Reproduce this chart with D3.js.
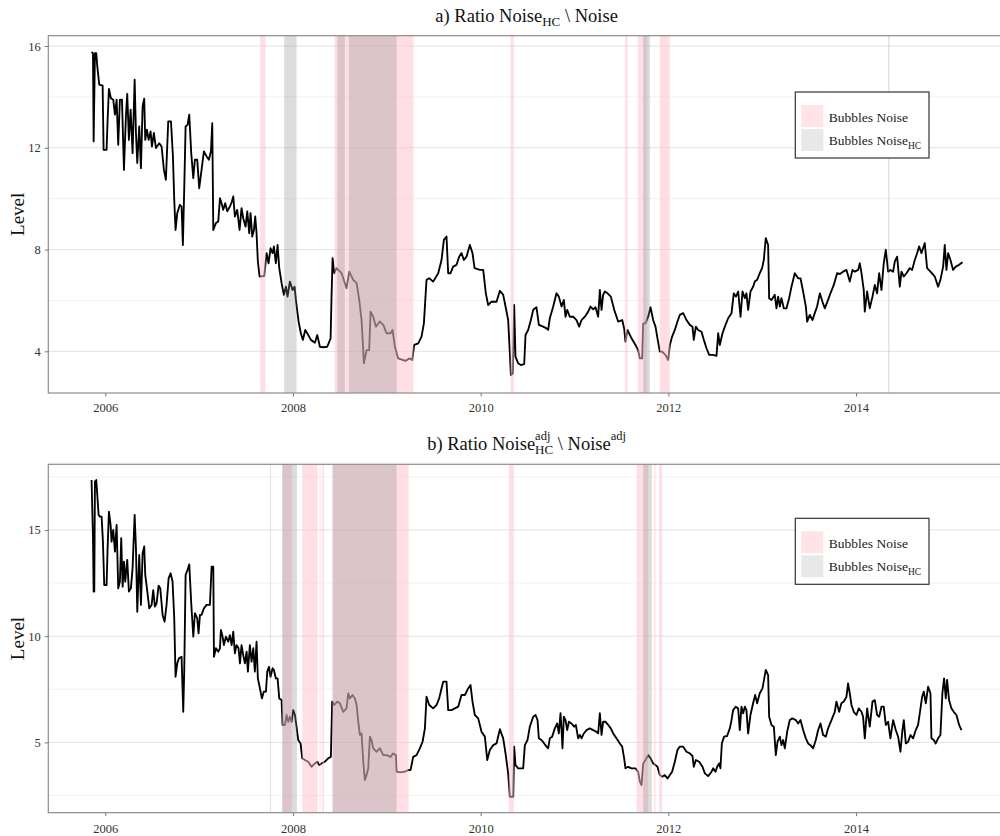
<!DOCTYPE html>
<html><head><meta charset="utf-8">
<script src="https://cdn.jsdelivr.net/npm/d3@7"></script>
<style>body{margin:0;background:#fff}svg{display:block}</style>
</head><body><svg id="c" width="1000" height="836"></svg>
<script>
// ---------- DATA ----------
const yearTicks = [2006, 2008, 2010, 2012, 2014];
const ticksA = [4, 8, 12, 16];
const minorA = [6, 10, 14];
const ticksB = [5, 10, 15];
const minorB = [2.5, 7.5, 12.5, 17.5];
const legendLabels = ["Bubbles Noise", "Bubbles Noise"];

// panel a: [decimal year, level]
const seriesA = [[2005.854,15.76],[2005.869,15.72],[2005.876,12.25],[2005.890,15.72],[2005.904,15.72],[2005.915,15.20],[2005.936,14.48],[2005.972,14.44],[2005.982,11.92],[2006.014,11.92],[2006.025,13.10],[2006.039,14.31],[2006.060,13.95],[2006.085,13.89],[2006.103,13.30],[2006.121,13.89],[2006.138,12.12],[2006.156,13.89],[2006.178,13.89],[2006.199,11.13],[2006.220,13.23],[2006.234,14.12],[2006.252,12.31],[2006.270,13.50],[2006.291,11.79],[2006.313,14.68],[2006.327,12.58],[2006.341,11.40],[2006.362,12.84],[2006.380,11.20],[2006.398,13.63],[2006.415,13.93],[2006.426,12.31],[2006.444,12.71],[2006.462,12.31],[2006.483,12.64],[2006.497,12.05],[2006.518,12.58],[2006.540,11.99],[2006.575,12.18],[2006.600,12.05],[2006.625,11.13],[2006.646,10.74],[2006.671,13.04],[2006.700,13.04],[2006.721,11.66],[2006.735,9.95],[2006.749,8.77],[2006.767,9.43],[2006.795,9.76],[2006.813,9.69],[2006.827,8.18],[2006.842,10.48],[2006.856,12.84],[2006.877,12.90],[2006.895,13.30],[2006.916,11.79],[2006.938,10.81],[2006.955,11.53],[2006.980,11.53],[2007.001,10.41],[2007.026,11.13],[2007.051,11.86],[2007.080,11.66],[2007.104,11.53],[2007.126,11.86],[2007.140,12.97],[2007.151,8.77],[2007.179,9.04],[2007.204,9.10],[2007.222,10.02],[2007.239,9.82],[2007.257,9.56],[2007.278,9.82],[2007.300,9.50],[2007.328,9.69],[2007.346,9.85],[2007.364,10.09],[2007.381,9.30],[2007.406,9.56],[2007.431,8.77],[2007.452,9.63],[2007.470,9.23],[2007.495,8.90],[2007.513,9.50],[2007.534,8.64],[2007.548,9.43],[2007.566,8.51],[2007.584,8.77],[2007.598,9.30],[2007.612,8.64],[2007.626,7.53],[2007.644,6.94],[2007.694,6.96],[2007.719,7.86],[2007.740,7.46],[2007.761,8.05],[2007.783,7.86],[2007.797,8.12],[2007.818,7.46],[2007.836,8.18],[2007.854,7.27],[2007.879,6.68],[2007.903,6.22],[2007.925,6.54],[2007.942,6.15],[2007.967,6.74],[2007.996,6.41],[2008.017,6.54],[2008.031,6.02],[2008.060,5.17],[2008.084,4.71],[2008.106,4.45],[2008.131,4.84],[2008.152,4.71],[2008.191,4.45],[2008.234,4.34],[2008.259,4.64],[2008.287,4.18],[2008.322,4.16],[2008.365,4.18],[2008.401,4.51],[2008.411,6.15],[2008.422,7.66],[2008.440,7.07],[2008.464,7.27],[2008.518,7.07],[2008.571,6.48],[2008.599,7.13],[2008.642,6.81],[2008.678,6.68],[2008.706,6.02],[2008.731,5.23],[2008.756,3.53],[2008.784,4.05],[2008.812,4.05],[2008.827,5.56],[2008.855,5.36],[2008.884,4.97],[2008.926,5.17],[2008.962,5.04],[2008.997,4.71],[2009.040,4.71],[2009.061,4.84],[2009.086,4.18],[2009.121,3.72],[2009.168,3.66],[2009.203,3.63],[2009.239,3.72],[2009.271,3.66],[2009.292,4.25],[2009.335,4.31],[2009.370,4.58],[2009.395,5.10],[2009.423,6.81],[2009.452,6.87],[2009.494,6.74],[2009.548,7.07],[2009.583,7.59],[2009.608,8.38],[2009.636,8.51],[2009.654,7.07],[2009.679,7.07],[2009.707,7.33],[2009.743,7.40],[2009.771,7.72],[2009.796,7.86],[2009.821,7.59],[2009.849,7.72],[2009.885,8.18],[2009.913,7.86],[2009.935,7.27],[2009.991,7.20],[2010.027,7.20],[2010.055,6.28],[2010.080,5.82],[2010.116,5.95],[2010.169,5.95],[2010.205,6.38],
[2010.240,6.22],[2010.265,5.76],[2010.293,5.23],[2010.311,3.92],[2010.322,3.07],[2010.343,3.13],[2010.357,5.82],[2010.371,3.79],[2010.400,3.53],[2010.428,3.46],[2010.464,3.50],[2010.478,4.64],[2010.506,4.84],[2010.535,5.23],[2010.560,5.63],[2010.595,5.73],[2010.620,5.04],[2010.666,4.97],[2010.702,4.90],[2010.719,4.84],[2010.737,5.30],[2010.773,5.76],[2010.808,6.28],[2010.833,6.15],[2010.862,5.76],[2010.886,6.02],[2010.904,5.36],[2010.922,5.63],[2010.950,5.36],[2010.986,5.36],[2011.021,5.23],[2011.050,4.97],[2011.075,5.23],[2011.110,5.36],[2011.146,5.56],[2011.170,5.76],[2011.199,5.65],[2011.224,5.73],[2011.252,5.36],[2011.270,6.41],[2011.288,5.63],[2011.305,6.22],[2011.323,6.35],[2011.352,6.28],[2011.387,6.15],[2011.423,5.63],[2011.465,5.17],[2011.508,5.23],[2011.529,4.90],[2011.543,4.38],[2011.565,4.84],[2011.607,4.51],[2011.650,4.25],[2011.678,4.05],[2011.696,3.72],[2011.721,3.72],[2011.732,5.10],[2011.756,5.10],[2011.785,5.36],[2011.810,5.73],[2011.838,5.23],[2011.863,4.97],[2011.884,4.51],[2011.909,3.99],[2011.934,3.99],[2011.969,3.86],[2011.998,3.66],[2012.016,4.25],[2012.040,4.58],[2012.069,4.84],[2012.097,5.17],[2012.122,5.43],
[2012.158,5.50],[2012.193,5.23],[2012.229,5.04],[2012.257,4.97],[2012.271,4.45],[2012.293,4.97],[2012.317,4.84],[2012.353,4.77],[2012.378,4.45],[2012.406,4.12],[2012.435,3.86],[2012.477,3.86],[2012.513,3.82],[2012.531,4.71],[2012.548,4.25],[2012.577,4.71],[2012.602,4.97],[2012.637,5.30],[2012.673,5.50],[2012.697,6.28],[2012.719,6.15],[2012.744,6.35],[2012.769,5.36],[2012.790,6.35],[2012.815,6.09],[2012.832,6.28],[2012.850,5.63],[2012.875,6.35],[2012.903,6.54],[2012.921,6.74],[2012.946,6.81],[2012.974,7.07],[2012.999,7.27],[2013.017,7.59],[2013.038,8.45],[2013.063,8.18],[2013.074,6.09],[2013.099,6.02],[2013.134,6.22],[2013.152,5.69],[2013.170,6.15],[2013.188,5.76],[2013.205,6.09],[2013.230,5.69],[2013.259,5.69],[2013.287,6.09],[2013.312,6.54],[2013.347,7.07],[2013.383,6.87],[2013.408,6.87],[2013.436,6.35],[2013.465,5.76],[2013.479,5.17],[2013.507,5.43],[2013.536,5.23],[2013.560,5.50],[2013.585,5.76],[2013.614,6.28],[2013.642,5.95],[2013.667,5.69],[2013.702,6.02],[2013.727,6.28],[2013.763,6.61],[2013.798,7.07],[2013.827,7.04],[2013.862,7.13],[2013.898,7.20],[2013.933,6.74],[2013.962,7.20],[2013.987,7.13],[2014.022,7.20],[2014.040,7.46],[2014.058,7.07],[2014.082,6.41],[2014.093,5.56],[2014.118,6.35],[2014.146,5.69],[2014.175,6.15],[2014.200,6.61],[2014.224,6.28],[2014.246,7.07],[2014.271,6.41],[2014.295,7.46],[2014.317,7.99],[2014.342,7.13],[2014.366,7.20],[2014.395,7.13],[2014.413,7.53],[2014.438,7.72],[2014.466,6.54],[2014.484,7.13],[2014.509,6.94],[2014.537,7.07],[2014.572,7.27],[2014.597,7.20],[2014.626,7.59],[2014.651,7.86],[2014.672,8.12],[2014.697,7.86],[2014.732,8.25],[2014.757,7.27],[2014.793,7.13],[2014.839,6.94],[2014.874,6.54],[2014.899,6.81],[2014.928,7.33],[2014.945,8.18],[2014.963,7.20],[2014.981,7.86],[2015.006,7.59],[2015.034,7.20],[2015.062,7.33],[2015.098,7.40],[2015.134,7.50]];

// panel b: [decimal year, level]
const seriesB = [[2005.854,17.35],[2005.869,14.69],[2005.876,12.10],[2005.883,12.10],[2005.890,17.28],[2005.904,17.35],[2005.915,16.65],[2005.929,15.71],[2005.943,15.63],[2005.961,15.63],[2005.975,14.45],[2005.989,12.41],[2006.014,12.41],[2006.025,14.14],[2006.039,15.86],[2006.057,15.24],[2006.067,14.45],[2006.085,15.00],[2006.103,13.98],[2006.121,15.24],[2006.138,12.25],[2006.156,12.57],[2006.170,14.61],[2006.185,12.33],[2006.199,13.51],[2006.213,12.57],[2006.234,13.59],[2006.252,12.10],[2006.273,12.25],[2006.291,13.19],[2006.313,15.71],[2006.327,14.14],[2006.341,11.15],[2006.362,13.82],[2006.380,11.47],[2006.398,13.90],[2006.415,14.22],[2006.426,12.88],[2006.444,12.25],[2006.469,11.31],[2006.494,11.47],[2006.511,12.17],[2006.529,11.39],[2006.547,11.55],[2006.568,12.38],[2006.586,12.25],[2006.611,11.00],[2006.632,10.68],[2006.653,11.47],[2006.675,12.72],[2006.696,12.96],[2006.717,12.57],[2006.735,10.84],[2006.749,8.09],[2006.767,8.72],[2006.785,8.96],[2006.813,9.03],[2006.831,6.44],[2006.842,8.49],[2006.856,12.88],[2006.877,13.12],[2006.895,13.38],[2006.916,11.55],[2006.938,9.98],[2006.955,11.08],[2006.980,10.84],[2006.994,10.13],[2007.009,11.00],[2007.026,11.00],[2007.051,11.31],[2007.080,11.47],[2007.115,11.47],[2007.133,13.27],[2007.151,13.27],[2007.158,9.03],[2007.179,9.43],[2007.204,9.27],[2007.222,9.43],[2007.232,10.29],[2007.250,9.98],[2007.264,9.58],[2007.286,9.98],[2007.310,9.74],[2007.328,10.05],[2007.346,9.58],[2007.364,10.21],[2007.381,9.19],[2007.399,9.58],[2007.420,9.43],[2007.435,8.72],[2007.452,9.58],[2007.470,9.11],[2007.488,8.72],[2007.506,9.27],[2007.520,8.33],[2007.541,9.58],[2007.559,8.80],[2007.577,9.43],[2007.594,8.33],[2007.612,9.74],[2007.626,8.01],[2007.648,7.54],[2007.669,7.07],[2007.690,7.39],[2007.712,7.39],[2007.726,8.33],[2007.744,8.56],[2007.761,8.09],[2007.783,8.49],[2007.797,8.41],[2007.818,8.01],[2007.836,8.01],[2007.854,7.07],[2007.879,6.99],[2007.889,5.82],[2007.914,5.82],[2007.932,6.29],[2007.950,5.97],[2007.967,6.21],[2007.985,5.97],[2008.003,6.52],[2008.021,6.29],[2008.038,5.74],[2008.056,5.11],[2008.081,4.95],[2008.099,4.25],[2008.127,4.17],[2008.163,4.09],[2008.198,3.85],[2008.234,4.01],[2008.259,4.09],[2008.280,3.93],[2008.305,4.01],[2008.340,4.09],[2008.376,4.25],[2008.404,4.32],[2008.418,6.92],[2008.440,6.76],[2008.472,6.92],[2008.500,6.84],[2008.536,6.44],[2008.571,6.60],[2008.589,7.31],[2008.607,7.07],[2008.635,7.23],[2008.660,7.07],[2008.678,6.76],[2008.696,5.97],[2008.713,5.35],[2008.731,5.42],[2008.749,4.09],[2008.766,3.23],[2008.784,3.46],[2008.802,3.78],[2008.820,5.27],[2008.837,5.11],[2008.855,4.72],[2008.891,4.56],[2008.926,4.72],[2008.962,4.40],[2008.997,4.40],[2009.040,4.32],[2009.068,4.48],[2009.097,4.40],[2009.104,3.62],[2009.139,3.59],[2009.193,3.62],[2009.228,3.70],[2009.253,3.70],[2009.281,4.32],[2009.317,4.40],[2009.352,4.72],[2009.381,5.03],[2009.406,5.66],[2009.423,7.15],[2009.452,6.76],[2009.494,6.60],[2009.530,6.76],[2009.558,7.07],[2009.583,7.54],[2009.601,7.86],[2009.636,7.86],[2009.654,6.52],[2009.690,6.52],[2009.725,6.60],[2009.761,6.68],[2009.796,7.23],[2009.832,7.23],[2009.867,7.54],[2009.892,7.70],[2009.913,6.92],[2009.938,6.29],[2009.974,6.13],[2010.009,5.50],[2010.045,5.27],[2010.070,4.17],[2010.098,4.64],[2010.134,4.87],[2010.169,4.95],[2010.205,5.62],
[2010.240,5.19],[2010.265,4.48],[2010.293,3.54],[2010.311,2.44],[2010.329,2.44],[2010.347,2.44],[2010.357,4.80],[2010.371,3.93],[2010.400,3.78],[2010.428,3.78],[2010.453,3.78],[2010.471,4.87],[2010.499,5.11],[2010.524,5.74],[2010.560,6.21],[2010.585,6.29],[2010.606,6.05],[2010.620,5.19],[2010.648,5.11],[2010.677,4.95],[2010.702,4.80],[2010.719,4.72],[2010.737,5.19],[2010.762,5.27],[2010.790,5.66],[2010.815,5.89],[2010.833,5.42],[2010.851,6.37],[2010.862,5.58],[2010.872,4.72],[2010.886,6.21],[2010.904,6.05],[2010.922,5.58],[2010.940,5.97],[2010.968,5.89],[2010.996,5.74],[2011.014,5.82],[2011.039,5.19],[2011.057,5.35],[2011.075,5.19],[2011.099,5.42],[2011.128,5.58],[2011.163,5.66],[2011.199,5.58],[2011.234,5.50],[2011.252,5.42],[2011.270,6.37],[2011.288,5.35],[2011.305,5.97],[2011.330,5.97],[2011.359,5.82],[2011.387,5.66],[2011.412,5.42],[2011.447,5.19],[2011.483,4.95],[2011.508,4.80],[2011.529,4.25],[2011.543,3.78],[2011.572,3.85],[2011.607,3.78],[2011.650,3.78],[2011.678,3.62],[2011.696,3.15],[2011.714,2.99],[2011.732,4.01],[2011.756,4.17],[2011.785,4.40],[2011.810,4.25],[2011.838,4.01],[2011.863,3.93],[2011.884,3.85],[2011.909,3.46],[2011.934,3.38],[2011.962,3.46],[2011.991,3.30],[2012.016,3.46],[2012.040,3.62],[2012.069,4.09],[2012.097,4.64],[2012.122,4.80],
[2012.158,4.80],[2012.193,4.56],[2012.229,4.48],[2012.257,4.36],[2012.271,3.85],[2012.293,4.17],[2012.328,4.09],[2012.364,3.85],[2012.389,3.54],[2012.424,3.41],[2012.460,3.62],[2012.477,3.78],[2012.502,3.62],[2012.520,3.85],[2012.541,4.01],[2012.555,3.78],[2012.570,4.95],[2012.594,5.27],[2012.626,5.30],[2012.655,5.66],[2012.673,6.05],[2012.690,6.52],[2012.719,6.68],[2012.744,6.60],[2012.761,5.58],[2012.779,6.68],[2012.797,6.37],[2012.815,6.68],[2012.832,6.52],[2012.850,5.42],[2012.875,6.29],[2012.903,6.84],[2012.925,7.23],[2012.946,6.84],[2012.974,7.31],[2013.003,7.54],[2013.038,8.41],[2013.063,8.17],[2013.074,6.21],[2013.099,5.82],[2013.124,5.74],[2013.145,4.40],[2013.163,5.03],[2013.188,5.27],[2013.205,4.87],[2013.223,5.11],[2013.241,4.72],[2013.266,5.50],[2013.294,6.05],[2013.322,6.13],[2013.358,6.05],[2013.383,5.89],[2013.408,6.05],[2013.436,5.58],[2013.465,5.19],[2013.489,4.95],[2013.514,4.87],[2013.543,4.72],[2013.571,5.11],[2013.596,5.58],[2013.621,5.89],[2013.649,5.35],[2013.678,5.27],[2013.702,5.66],[2013.738,6.05],[2013.773,6.44],[2013.791,6.92],[2013.820,6.44],[2013.844,6.84],[2013.869,6.92],[2013.898,7.15],[2013.915,7.78],[2013.933,7.31],[2013.951,6.76],[2013.976,6.44],[2014.004,6.29],[2014.029,6.60],[2014.058,6.44],[2014.075,6.21],[2014.093,5.19],[2014.118,6.60],[2014.146,5.74],[2014.175,6.92],[2014.200,6.99],[2014.224,6.29],[2014.246,6.21],[2014.271,6.68],[2014.295,6.68],[2014.317,5.82],[2014.342,5.97],[2014.366,5.19],[2014.395,6.05],[2014.423,5.58],[2014.448,5.27],[2014.473,4.56],[2014.494,5.58],[2014.509,6.05],[2014.530,4.95],[2014.555,5.03],[2014.580,5.35],[2014.608,5.19],[2014.636,5.58],[2014.661,5.82],[2014.679,6.37],[2014.704,7.15],[2014.722,7.39],[2014.743,6.84],[2014.768,7.62],[2014.793,7.31],[2014.803,5.19],[2014.828,5.11],[2014.849,4.95],[2014.874,5.19],[2014.899,5.35],[2014.920,7.31],[2014.938,8.01],[2014.956,7.07],[2014.970,7.94],[2014.991,6.99],[2015.016,6.60],[2015.041,6.44],[2015.070,6.29],[2015.098,5.82],[2015.123,5.58]];

// bubble periods [start, end] in decimal years
const noiseBubblesA = [[2007.651,2007.708],[2008.443,2009.285],[2010.318,2010.354],[2011.540,2011.565],[2011.675,2011.774],[2011.909,2012.016]];
const hcBubblesA = [[2007.907,2008.038],[2008.472,2008.553],[2008.596,2009.104],[2011.731,2011.803],[2014.343,2014.356]];
const noiseBubblesB = [[2007.886,2007.989],[2008.099,2008.262],[2008.283,2008.294],[2008.312,2008.330],[2008.422,2009.232],[2010.300,2010.354],[2011.661,2011.785],[2011.849,2011.863],[2011.902,2011.934]];
const hcBubblesB = [[2007.757,2007.765],[2007.886,2008.042],[2008.422,2009.104],[2011.732,2011.824]];

// ---------- DRAW ----------
const svg = d3.select('#c');
const FONT = "'Liberation Serif','Times New Roman',serif";
const PINK = 'rgba(255,192,203,0.5)';
const GREY = 'rgba(140,140,140,0.3)';
const x = d3.scaleLinear().domain([2005.393, 2015.586]).range([48.3, 1004.9]);

const panels = [
  {id:'a', series: seriesA, noise: noiseBubblesA, hc: hcBubblesA, top: 35.7, bottom: 393,
   yDomain: [2.362, 16.405], major: ticksA, minor: minorA, legendTop: 92, titleY: 21.7, labelOff: 19.3},
  {id:'b', series: seriesB, noise: noiseBubblesB, hc: hcBubblesB, top: 464.3, bottom: 812.7,
   yDomain: [1.69, 18.09], major: ticksB, minor: minorB, legendTop: 518.3, titleY: 450, labelOff: 20.6}
];

const left = x.range()[0], right = x.range()[1];

panels.forEach((p, i) => {
  const y = d3.scaleLinear().domain(p.yDomain).range([p.bottom, p.top]);
  const g = svg.append('g');
  const clipId = 'clip' + p.id;
  svg.append('clipPath').attr('id', clipId).append('rect')
    .attr('x', left).attr('y', p.top).attr('width', right - left).attr('height', p.bottom - p.top);

  // grid
  g.selectAll('.mn').data(p.minor).join('line')
    .attr('x1', left).attr('x2', right).attr('y1', d => y(d)).attr('y2', d => y(d))
    .attr('stroke', '#f2f2f2').attr('stroke-width', 1);
  g.selectAll('.mj').data(p.major).join('line')
    .attr('x1', left).attr('x2', right).attr('y1', d => y(d)).attr('y2', d => y(d))
    .attr('stroke', '#e2e2e2').attr('stroke-width', 1);

  const inner = g.append('g').attr('clip-path', `url(#${clipId})`);
  // line
  inner.append('path').datum(p.series)
    .attr('d', d3.line().x(d => x(d[0])).y(d => y(d[1])))
    .attr('fill', 'none').attr('stroke', '#000').attr('stroke-width', 1.85)
    .attr('stroke-linejoin', 'round');
  // bubbles drawn over the line
  inner.selectAll('.nb').data(p.noise).join('rect')
    .attr('x', d => x(d[0])).attr('width', d => Math.max(0.8, x(d[1]) - x(d[0])))
    .attr('y', p.top).attr('height', p.bottom - p.top).attr('fill', PINK);
  inner.selectAll('.hb').data(p.hc).join('rect')
    .attr('x', d => x(d[0])).attr('width', d => Math.max(0.8, x(d[1]) - x(d[0])))
    .attr('y', p.top).attr('height', p.bottom - p.top).attr('fill', GREY);

  // border
  g.append('rect').attr('x', left).attr('y', p.top).attr('width', right - left)
    .attr('height', p.bottom - p.top).attr('fill', 'none').attr('stroke', '#8c8c8c').attr('stroke-width', 1.2);

  // axes
  const xa = g.append('g').attr('transform', `translate(0,${p.bottom})`)
    .call(d3.axisBottom(x).tickValues(yearTicks).tickFormat(d3.format('d')).tickSize(3.5).tickPadding(4));
  xa.select('.domain').remove();
  xa.selectAll('line').attr('stroke', '#777');
  xa.selectAll('text').attr('font-family', FONT).attr('font-size', 12.5).attr('fill', '#333')
    .attr('y', p.labelOff).attr('dy', null);

  const ya = g.append('g').attr('transform', `translate(${left},0)`)
    .call(d3.axisLeft(y).tickValues(p.major).tickFormat(d3.format('d')).tickSize(3.5).tickPadding(4));
  ya.select('.domain').remove();
  ya.selectAll('line').attr('stroke', '#777');
  ya.selectAll('text').attr('font-family', FONT).attr('font-size', 12.5).attr('fill', '#333');

  // y label
  svg.append('text').attr('transform', `translate(24,${(p.top + p.bottom) / 2}) rotate(-90)`)
    .attr('text-anchor', 'middle').attr('font-family', FONT).attr('font-size', 19).attr('fill', '#111')
    .text('Level');

  // legend
  const lg = svg.append('g').attr('transform', `translate(795.3,${p.legendTop})`);
  lg.append('rect').attr('width', 133.7).attr('height', 66).attr('fill', '#fff')
    .attr('stroke', '#333').attr('stroke-width', 1.2);
  lg.append('rect').attr('x', 6).attr('y', 13).attr('width', 22).attr('height', 22).attr('fill', '#ffe3e7');
  lg.append('rect').attr('x', 6).attr('y', 37).attr('width', 22).attr('height', 22).attr('fill', '#e8e8e8');
  lg.append('text').attr('x', 33.5).attr('y', 29.7).attr('font-family', FONT).attr('font-size', 13.5)
    .attr('fill', '#222').text(legendLabels[0]);
  const t2 = lg.append('text').attr('x', 33.5).attr('y', 53).attr('font-family', FONT).attr('font-size', 13.5)
    .attr('fill', '#222');
  t2.append('tspan').text(legendLabels[1]);
  t2.append('tspan').attr('dy', 3.5).attr('font-size', 9.5).text('HC');

  // title
  const parts = p.id === 'a'
    ? [{text:'a) Ratio Noise', size:18.5}, {text:'HC', size:13, dy:4.5}, {text:'\u00A0\\\u00A0Noise', size:18.5}]
    : [{text:'b) Ratio Noise', size:18.5}, {stack:[{text:'adj', size:12.5, dy:-10.5}, {text:'HC', size:13, dy:4}]},
       {text:'\u00A0\\\u00A0Noise', size:18.5}, {text:'adj', size:12.5, dy:-10.5}];
  const tg = svg.append('g');
  let cursor = 0;
  parts.forEach(pt => {
    const items = pt.stack || [pt];
    let w = 0;
    items.forEach(it => {
      const t = tg.append('text').attr('x', cursor).attr('y', p.titleY + (it.dy || 0))
        .attr('font-family', FONT).attr('font-size', it.size).attr('fill', '#111').text(it.text);
      w = Math.max(w, t.node().getComputedTextLength());
    });
    cursor += w;
  });
  tg.attr('transform', `translate(${(left + right) / 2 - cursor / 2},0)`);
});
</script></body></html>
